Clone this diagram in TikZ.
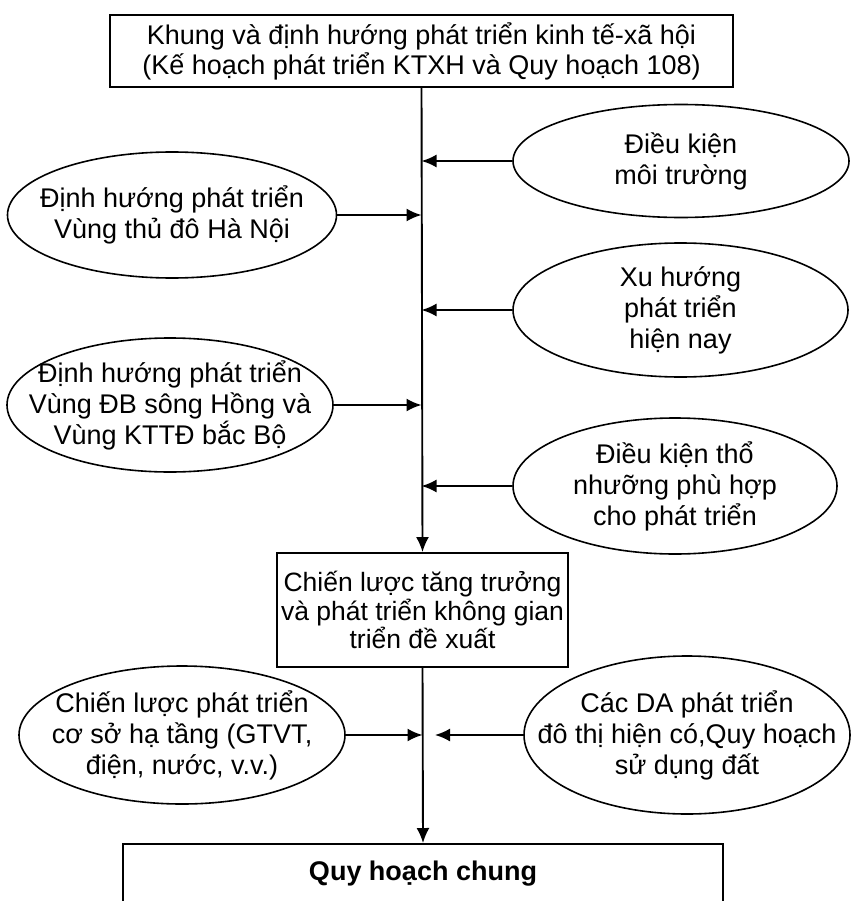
\documentclass[tikz,border=0pt]{standalone}
\usepackage{fontspec}
\setmainfont{Liberation Sans}
\usetikzlibrary{shapes.geometric,arrows.meta}
\begin{document}
\begin{tikzpicture}[x=1pt,y=-1pt,
  every node/.style={font=\fontsize{27}{31}\selectfont, align=center},
  box/.style={draw, line width=1.9pt, inner sep=0pt},
  oval/.style={draw, ellipse, line width=1.6pt, inner sep=0pt},
  arr/.style={line width=1.9pt, -{Latex[length=15pt,width=13pt]}}]
\useasboundingbox (0,0) rectangle (852,901);
\clip (0,0) rectangle (852,901);

\node[box, minimum width=623pt, minimum height=72pt, font=\fontsize{27}{30}\selectfont] (top) at (421.5,51)
  {Khung và định hướng phát triển kinh tế-xã hội\\(Kế hoạch phát triển KTXH và Quy hoạch 108)};

\node[box, minimum width=291pt, minimum height=114pt, font=\fontsize{26.5}{28.5}\selectfont] (mid) at (422.5,610)
  {Chiến lược tăng trưởng\\và phát triển không gian\\triển đề xuất};

\node[box, minimum width=600pt, anchor=north, inner ysep=18pt, text height=19pt, text depth=60pt,
  font=\bfseries\fontsize{27}{30}\selectfont] (bot) at (423,843) {Quy hoạch chung};

\node[oval, minimum width=336pt, minimum height=113pt, label={center:Điều kiện\\môi trường}] (e1) at (681,161) {};
\node[oval, minimum width=329pt, minimum height=126pt, label={center:Định hướng phát triển\\Vùng thủ đô Hà Nội}] (e2) at (172,215) {};
\node[oval, minimum width=335pt, minimum height=134pt, label={center:Xu hướng\\phát triển\\hiện nay}] (e3) at (680.5,310) {};
\node[oval, minimum width=326pt, minimum height=134pt, label={center:Định hướng phát triển\\Vùng ĐB sông Hồng và\\Vùng KTTĐ bắc Bộ}] (e4) at (170,405) {};
\node[oval, minimum width=324pt, minimum height=136pt, label={center:Điều kiện thổ\\nhưỡng phù hợp\\cho phát triển}] (e5) at (675,486) {};
\node[oval, minimum width=326pt, minimum height=138pt, label={center:Chiến lược phát triển\\cơ sở hạ tầng (GTVT,\\điện, nước, v.v.)}] (e6) at (182,735) {};
\node[oval, minimum width=326pt, minimum height=158pt, label={center:Các DA phát triển\\đô thị hiện có,Quy hoạch\\sử dụng đất}] (e7) at (687,735) {};

\coordinate (gap) at (435,735);

\draw[arr] (top.south) -- (mid.north);
\draw[arr] (mid.south) -- (bot.north);
\draw[arr] (e1.west) -- (e1.west -| top.south);
\draw[arr] (e2.east) -- (e2.east -| top.south);
\draw[arr] (e3.west) -- (e3.west -| top.south);
\draw[arr] (e4.east) -- (e4.east -| top.south);
\draw[arr] (e5.west) -- (e5.west -| top.south);
\draw[arr] (e6.east) -- (e6.east -| mid.south);
\draw[arr] (e7.west) -- (gap);
\end{tikzpicture}
\end{document}
